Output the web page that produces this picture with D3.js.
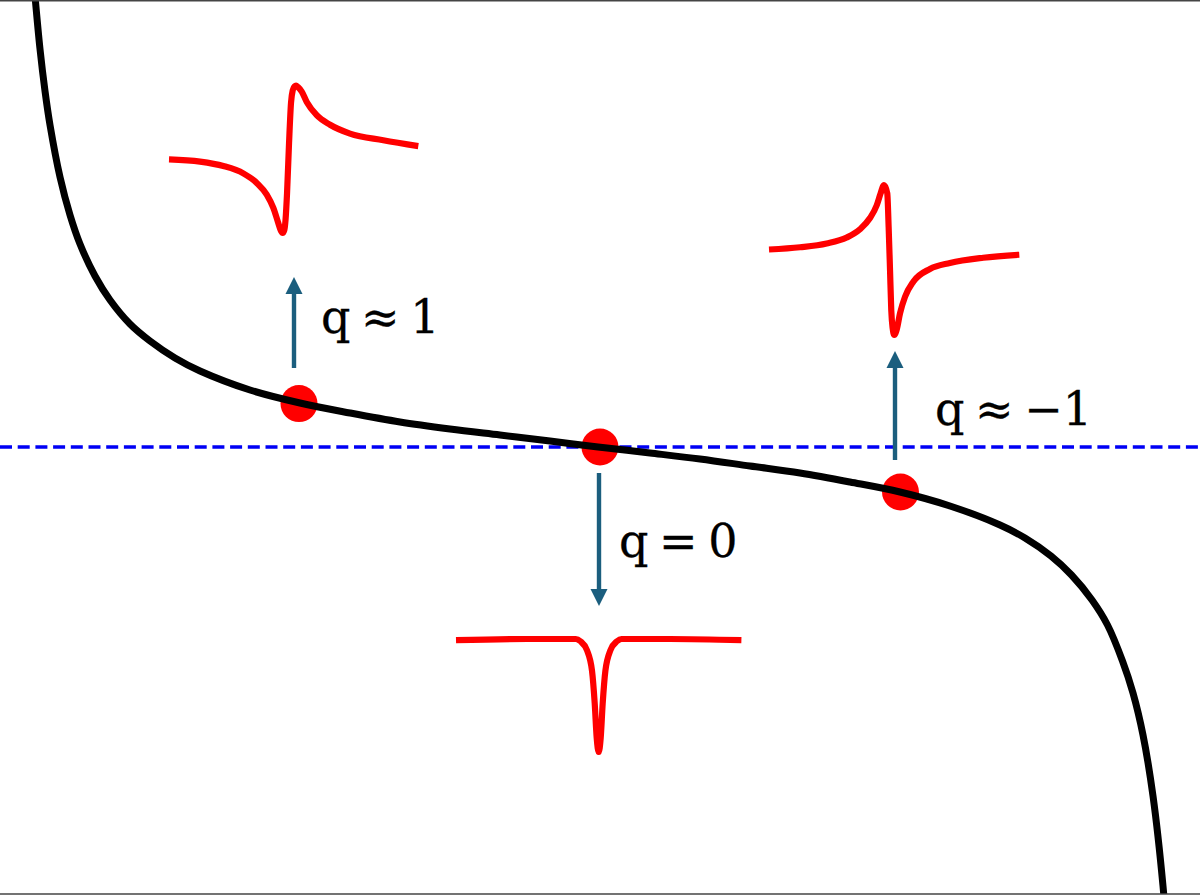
<!DOCTYPE html>
<html>
<head>
<meta charset="utf-8">
<script src="https://cdn.jsdelivr.net/npm/d3@7"></script>
<style>
  html, body { margin: 0; padding: 0; background: #fff; }
  svg { display: block; }
</style>
</head>
<body>
<svg id="chart" width="1200" height="895"></svg>
<script>
// ---- Main response curve ----
const curveX = [-5.65,-5.60,-5.55,-5.50,-5.40,-5.30,-5.20,-5.05,-4.90,-4.70,-4.50,-4.25,-4.00,-3.50,-3.00,-2.50,-2.00,-1.50,-1.00,-0.50,-0.02,0.50,1.00,1.50,2.00,2.50,3.00,3.50,4.00,4.25,4.51,4.715,4.92,5.075,5.225,5.33,5.43,5.53,5.63,5.68];
const curveY = [4.51,3.98,3.56,3.22,2.70,2.32,2.03,1.71,1.47,1.23,1.06,0.89,0.76,0.57,0.44,0.34,0.25,0.18,0.12,0.06,0.00,-0.06,-0.12,-0.19,-0.26,-0.35,-0.45,-0.59,-0.78,-0.91,-1.09,-1.28,-1.53,-1.78,-2.14,-2.46,-2.88,-3.49,-4.39,-5.05];

// ---- Reference level ----
const refLevel = 0;

// ---- Marked points ----
const pointX = [-3.01, 0.00, 3.005];
const pointY = [0.434, 0.00, -0.45];

// ---- Arrows (x, start y, end y) ----
const arrowX = [-3.06, -0.01, 2.95];
const arrowFrom = [0.79, -0.26, -0.13];
const arrowTo = [1.70, -1.59, 0.96];

// ---- Labels ----
const labelText = ["q \u2248 1", "q = 0", "q \u2248 \u22121"];
const labelX = [-2.79, 0.19, 3.35];
const labelY = [1.14, -1.097, 0.22];

// ---- Line shapes (energy e, intensity I) ----
const fanoLeftE = [-10,-7.51,-5.64,-4.04,-2.96,-2.16,-1.63,-1.26,-1.02,-0.89,-0.75,-0.65,-0.53,-0.37,-0.21,-0.07,0.07,0.19,0.35,0.65,1.05,1.85,2.92,4.52,7.19,10];
const fanoLeftI = [1.00,0.97,0.91,0.81,0.68,0.52,0.34,0.15,0.03,0.00,0.04,0.18,0.54,1.22,1.77,1.94,1.99,2.00,1.98,1.92,1.78,1.60,1.47,1.35,1.26,1.18];

const fanoCenterE = [-10,-5,-2.5,-1.6,-1.28,-0.82,-0.47,-0.28,-0.14,0,0.14,0.28,0.47,0.82,1.28,1.6,2.5,5,10];
const fanoCenterI = [0.99,1.0,1.0,1.0,0.98,0.90,0.72,0.43,0.125,0,0.125,0.43,0.72,0.90,0.98,1.0,1.0,1.0,0.99];

const fanoRightE = [-10,-7.52,-5.39,-3.79,-2.73,-1.93,-1.39,-1.08,-0.81,-0.55,-0.44,-0.33,-0.23,-0.12,0.01,0.20,0.47,0.87,1.53,2.86,4.46,7.12,10];
const fanoRightI = [1.14,1.17,1.22,1.30,1.41,1.56,1.73,1.89,2.00,1.89,1.44,0.87,0.33,0.09,0.00,0.07,0.29,0.51,0.71,0.88,0.96,1.03,1.07];

// ---- Drawing ----
const W = 1200, H = 895;
const svg = d3.select("#chart");

const x = d3.scaleLinear().domain([-6, 6]).range([0, W]);
const y = d3.scaleLinear().domain([-4.47, 4.47]).range([894, 0]);

svg.append("defs").append("clipPath").attr("id", "clip")
  .append("rect").attr("x", 0).attr("y", 0).attr("width", W).attr("height", 894);

const g = svg.append("g").attr("clip-path", "url(#clip)");

// dashed reference line
g.append("line")
  .attr("x1", x(-6)).attr("x2", x(6))
  .attr("y1", y(refLevel)).attr("y2", y(refLevel))
  .attr("stroke", "#0000f5").attr("stroke-width", 3.6)
  .attr("stroke-dasharray", "12,5.7");

// main curve
const curveData = curveX.map((v, i) => [v, curveY[i]]);
const mainLine = d3.line().x(d => x(d[0])).y(d => y(d[1])).curve(d3.curveCatmullRom.alpha(0.5));

// points
g.selectAll("circle.pt").data(pointX.map((v, i) => [v, pointY[i]]))
  .join("circle").attr("class", "pt")
  .attr("cx", d => x(d[0])).attr("cy", d => y(d[1]))
  .attr("r", 18.5).attr("fill", "#ff0000");

// curve drawn over the dots
g.append("path")
  .datum(curveData)
  .attr("fill", "none")
  .attr("stroke", "#000")
  .attr("stroke-width", 7)
  .attr("d", mainLine);

// arrows
const arrowColor = "#1b5e7e";
const headLen = 17, headHalf = 8.5;
arrowX.forEach((ax, i) => {
  const px = x(ax), y0 = y(arrowFrom[i]), y1 = y(arrowTo[i]);
  const dir = y1 < y0 ? -1 : 1;
  g.append("line")
    .attr("x1", px).attr("x2", px)
    .attr("y1", y0).attr("y2", y1 - dir * headLen + dir * 1)
    .attr("stroke", arrowColor).attr("stroke-width", 4.4);
  g.append("path")
    .attr("d", `M${px},${y1} L${px - headHalf},${y1 - dir * headLen} L${px + headHalf},${y1 - dir * headLen} Z`)
    .attr("fill", arrowColor);
});

// labels
labelText.forEach((t, i) => {
  g.append("text")
    .attr("x", x(labelX[i])).attr("y", y(labelY[i]))
    .attr("font-family", "'DejaVu Serif', 'Liberation Serif', serif")
    .attr("font-size", 46)
    .attr("fill", "#000")
    .attr("stroke", "#000")
    .attr("stroke-width", 0.3)
    .attr("word-spacing", "-4px")
    .text(t);
});

// line-shape insets
function inset(E, I, box, iDomain) {
  const sx = d3.scaleLinear().domain([-10, 10]).range([x(box[0]), x(box[1])]);
  const sy = d3.scaleLinear().domain(iDomain).range([y(box[2]), y(box[3])]);
  g.append("path")
    .datum(E.map((e, k) => [e, I[k]]))
    .attr("fill", "none")
    .attr("stroke", "#ff0000")
    .attr("stroke-width", 6.2)
    .attr("stroke-linejoin", "round")
    .attr("d", d3.line().x(d => sx(d[0])).y(d => sy(d[1])).curve(d3.curveMonotoneX));
}
inset(fanoLeftE, fanoLeftI, [-4.31, -1.817, 2.14, 3.613], [0, 2]);
inset(fanoCenterE, fanoCenterI, [-1.44, 1.414, -3.05, -1.92], [0, 1]);
inset(fanoRightE, fanoRightI, [1.69, 4.193, 1.12, 2.62], [0, 2]);

// frame lines top & bottom
svg.append("line").attr("x1", 0).attr("x2", W).attr("y1", 0.75).attr("y2", 0.75)
  .attr("stroke", "#444").attr("stroke-width", 1.5);
svg.append("line").attr("x1", 0).attr("x2", W).attr("y1", 894).attr("y2", 894)
  .attr("stroke", "#444").attr("stroke-width", 1.5);
</script>
</body>
</html>
